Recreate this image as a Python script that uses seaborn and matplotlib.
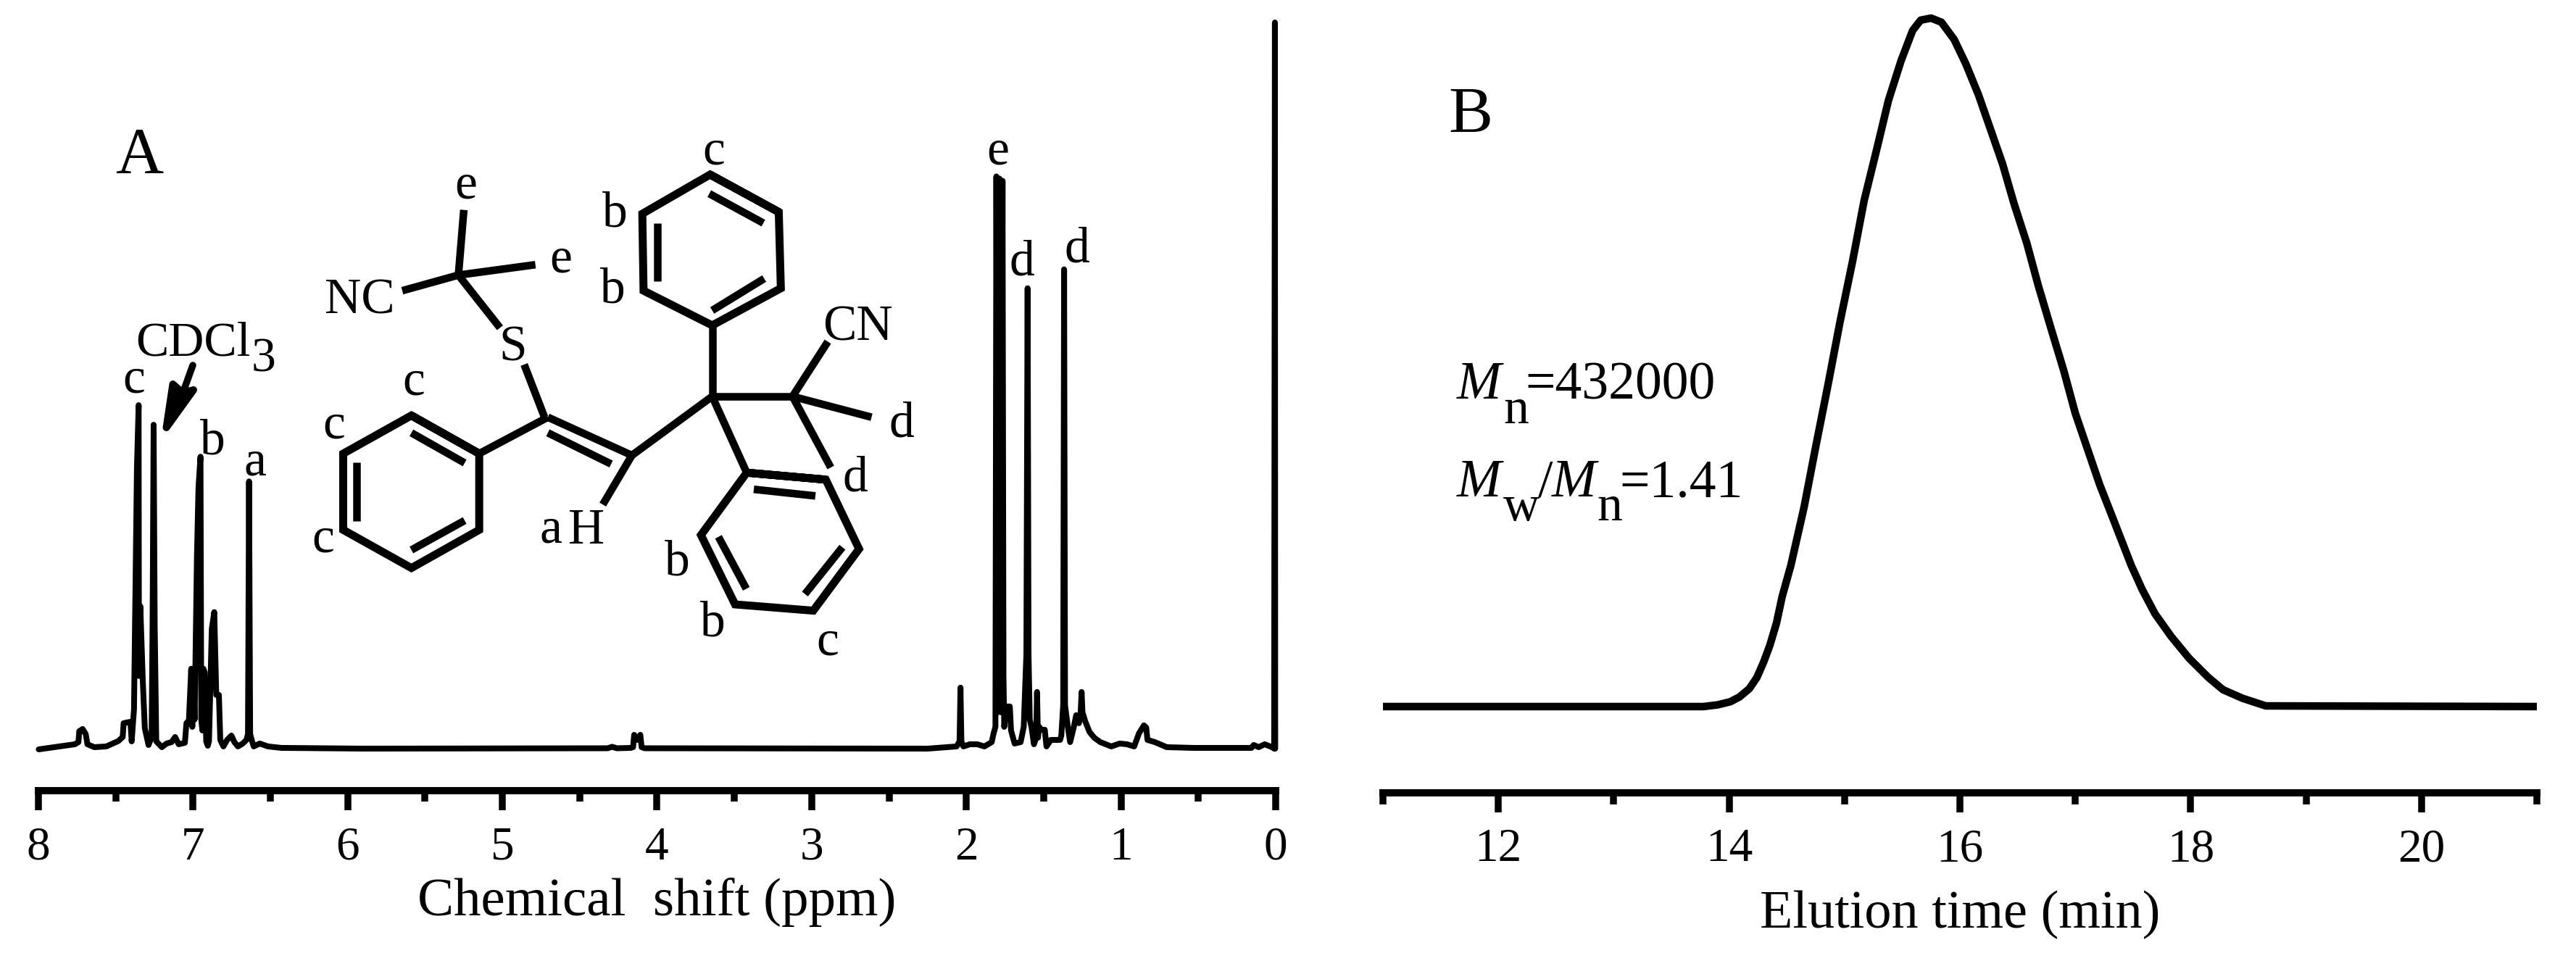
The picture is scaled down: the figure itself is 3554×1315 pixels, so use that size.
import matplotlib
matplotlib.use("Agg")
import matplotlib.pyplot as plt
from matplotlib.ticker import FixedLocator
from matplotlib.patches import Polygon
import seaborn as sns
import pandas as pd

# ---------- data ----------
nmr_ppm = [7.998, 7.764, 7.741, 7.736, 7.714, 7.694, 7.683, 7.639, 7.561, 7.483, 7.455, 7.449, 7.405, 7.397,
           7.382, 7.371, 7.363, 7.352, 7.350, 7.341, 7.325, 7.312, 7.288, 7.275, 7.268, 7.262, 7.255, 7.248, 7.238,
           7.202, 7.171, 7.139, 7.116, 7.093, 7.053, 7.043, 7.027, 7.012, 7.005, 6.998, 6.990, 6.984, 6.975, 6.965,
           6.952, 6.947, 6.940, 6.933, 6.925, 6.915, 6.905, 6.897, 6.879, 6.863, 6.850, 6.846, 6.833, 6.824, 6.804,
           6.780, 6.752, 6.733, 6.710, 6.679, 6.655, 6.645, 6.638, 6.631, 6.621, 6.608, 6.569, 6.515, 6.429, 5.900,
           4.320, 4.290, 4.260, 4.170, 4.155, 4.148, 4.130, 4.108, 4.100, 4.080, 2.250, 2.063, 2.044, 2.038, 2.032,
           2.019, 1.977, 1.930, 1.883, 1.836, 1.825, 1.812, 1.806, 1.797, 1.786, 1.775, 1.766, 1.760, 1.755, 1.743,
           1.719, 1.711, 1.688, 1.649, 1.629, 1.612, 1.604, 1.598, 1.590, 1.579, 1.563, 1.549, 1.543, 1.537, 1.529,
           1.516, 1.493, 1.482, 1.454, 1.423, 1.394, 1.386, 1.374, 1.368, 1.362, 1.344, 1.329, 1.305, 1.290, 1.272,
           1.261, 1.255, 1.249, 1.232, 1.204, 1.173, 1.134, 1.063, 1.009, 0.962, 0.915, 0.884, 0.852, 0.837, 0.829,
           0.782, 0.704, 0.532, 0.157, 0.142, 0.110, 0.071, 0.024, 0.010, 0.005, 0.003]
nmr_intensity = [-0.1, 0.6, 0.9, 2.4, 2.7, 2.0, 0.6, 0.2, 0.3, 1.05, 1.6, 3.5, 3.7, 1.0,
                 5.4, 24.2, 38.7, 47.3, 10.0, 19.6, 9.3, 2.8, 0.5, 1.2, 2.0, 16.9, 44.6, 16.9, 1.0,
                 0.2, 0.7, 0.9, 1.6, 0.6, 0.8, 3.5, 3.9, 11.0, 3.0, 11.0, 4.0, 13.0, 26.5, 36.0,
                 40.2, 4.0, 2.5, 11.0, 10.5, 1.0, 0.4, 1.0, 16.5, 18.8, 7.4, 7.4, 7.4, 1.2, 0.3,
                 1.2, 1.8, 0.9, 0.3, 0.7, 1.2, 2.0, 36.8, 2.0, 1.2, 0.3, 0.7, 0.3, 0.1, 0.0,
                 0.05, 0.25, 0.05, 0.1, 0.2, 1.9, 1.2, 1.9, 0.2, 0.05, 0.0, 0.3, 1.0, 8.4, 1.0,
                 0.3, 0.6, 0.6, 0.3, 0.9, 2.0, 3.0, 78.8, 5.0, 78.5, 5.0, 78.2, 10.0, 3.0, 5.8,
                 5.8, 2.5, 0.7, 0.9, 3.0, 13.0, 63.4, 13.0, 4.0, 3.0, 0.6, 1.5, 7.8, 1.5, 3.0,
                 2.6, 2.6, 0.3, 1.2, 1.2, 1.2, 1.8, 6.0, 66.0, 6.0, 3.0, 0.9, 3.0, 4.6, 3.5,
                 5.0, 7.8, 5.0, 3.8, 2.3, 1.5, 0.9, 0.3, 0.7, 0.6, 0.3, 2.1, 3.2, 2.9, 1.2,
                 0.9, 0.2, 0.1, 0.1, 0.5, 0.2, 0.6, 0.2, 0.0, 100.0, 0.0]

gpc_time = [11.0, 13.777, 13.90, 14.01, 14.09, 14.175, 14.24, 14.30, 14.353, 14.41, 14.46, 14.535, 14.65, 14.75,
            14.86, 14.96, 15.07, 15.17, 15.28, 15.38, 15.49, 15.59, 15.66, 15.75, 15.84, 15.95, 16.05, 16.16, 16.26,
            16.37, 16.47, 16.58, 16.68, 16.79, 16.90, 17.00, 17.11, 17.21, 17.32, 17.42, 17.485, 17.58, 17.69, 17.83,
            17.987, 18.155, 18.28, 18.45, 18.65, 21.0]
gpc_signal = [0.0, 0.0, 0.25, 0.7, 1.4, 2.6, 4.2, 6.5, 8.9, 12.1, 16.0, 20.5, 29.0, 37.7,
              47.0, 55.8, 64.7, 73.5, 81.0, 88.0, 93.8, 98.2, 99.7, 100.0, 99.4, 96.9, 93.4, 88.9, 84.1,
              78.8, 73.0, 67.3, 61.1, 54.9, 48.8, 42.6, 37.2, 32.3, 27.6, 23.3, 20.5, 17.0, 13.5, 10.2,
              7.0, 4.2, 2.45, 1.2, 0.1, 0.0]

ppm_ticks = [8, 7, 6, 5, 4, 3, 2, 1, 0]
ppm_minor = [7.5, 6.5, 5.5, 4.5, 3.5, 2.5, 1.5, 0.5]
time_ticks = [12, 14, 16, 18, 20]
time_minor = [11, 13, 15, 17, 19, 21]

# ---------- page geometry ----------
W, H = 3555, 1315
DPI = 100
PT = 72 / DPI
FONT = "Liberation Serif"

sns.set_theme(style="white")
plt.rcParams["font.family"] = [FONT, "DejaVu Serif"]

fig = plt.figure(figsize=(W / DPI, H / DPI), dpi=DPI, facecolor="white")


def axes_px(x0, x1, ytop, ybottom):
    return fig.add_axes([x0 / W, 1 - ybottom / H, (x1 - x0) / W, (ybottom - ytop) / H])


def style_axis(ax, major, minor, labels, major_len, minor_len, pad):
    ax.patch.set_alpha(0)
    for side in ("left", "right", "top"):
        ax.spines[side].set_visible(False)
    ax.spines["bottom"].set_linewidth(10 * PT)
    ax.spines["bottom"].set_color("black")
    ax.set_yticks([])
    ax.set_ylabel("")
    ax.set_xticks(major)
    ax.set_xticklabels(labels)
    ax.xaxis.set_minor_locator(FixedLocator(minor))
    ax.tick_params(axis="x", which="major", direction="out", bottom=True, length=major_len * PT,
                   width=9.5 * PT, color="black", labelsize=47, pad=pad * PT, labelcolor="black")
    ax.tick_params(axis="x", which="minor", direction="out", bottom=True, length=minor_len * PT,
                   width=9.5 * PT, color="black")


# ---------- panel A ----------
axA = axes_px(53, 1760, 20, 1091)
sns.lineplot(data=pd.DataFrame({"ppm": nmr_ppm, "i": nmr_intensity}), x="ppm", y="i", ax=axA, sort=False,
             estimator=None, color="black", linewidth=8 * PT, solid_joinstyle="round", solid_capstyle="round",
             clip_on=False)
axA.set_xlim(8, 0)
axA.set_ylim(-5.79, 101.1)
style_axis(axA, ppm_ticks, ppm_minor, [str(v) for v in ppm_ticks], 27, 15, 22)
axA.set_xlabel("Chemical  shift (ppm)", fontsize=54, color="black", labelpad=8)

# ---------- panel B ----------
axB = axes_px(1908, 3500, 0, 1094)
sns.lineplot(data=pd.DataFrame({"t": gpc_time, "s": gpc_signal}), x="t", y="s", ax=axB, sort=False,
             estimator=None, color="black", linewidth=10.5 * PT, solid_joinstyle="round", solid_capstyle="butt",
             clip_on=False)
axB.set_xlim(11, 21)
axB.set_ylim(-12.53, 102.63)
style_axis(axB, time_ticks, time_minor, [str(v) for v in time_ticks], 27, 16, 22)
axB.set_xlabel("Elution time (min)", fontsize=53.5, color="black", labelpad=19)

# ---------- overlay for annotations, in page pixels ----------
ov = fig.add_axes([0, 0, 1, 1], zorder=5)
ov.set_xlim(0, W)
ov.set_ylim(H, 0)
ov.axis("off")


def label(x, y, s, size=50, ha="center", style="normal"):
    ov.text(x, y, s, fontsize=size, ha=ha, va="baseline", color="black", style=style, family=FONT)


label(192, 239, "A", 66)
label(2029, 183, "B", 66)

peak_labels = [(185, 541, "c"), (293, 626, "b"), (352, 655, "a"), (1377, 226, "e"), (1410, 379, "d"), (1486, 361, "d")]
for x, y, s in peak_labels:
    label(x, y, s)

struct_labels = [(643, 273, "e"), (774, 375, "e"), (496, 432, "NC"), (708, 497, "S"), (571, 544, "c"),
                 (461, 604, "c"), (446, 761, "c"), (760, 748, "a"), (809, 750, "H"), (985, 226, "c"),
                 (848, 312, "b"), (845, 417, "b"), (1183, 469, "CN"), (1244, 602, "d"), (1180, 677, "d"),
                 (934, 793, "b"), (983, 877, "b"), (1142, 903, "c")]
for x, y, s in struct_labels:
    label(x, y, s)

label(187, 490, "CDCl", 49, ha="left")
label(347, 512, "3", 49, ha="left")

# solvent arrow
ov.add_patch(Polygon([(229.5, 590), (238.5, 530), (252, 542), (267, 538)], closed=True, facecolor="black",
                     edgecolor="black", linewidth=10 * PT, joinstyle="round"))
ov.plot([253, 266], [540, 504], color="black", linewidth=9.5 * PT, solid_capstyle="round")

# molecular weight annotation
label(2010, 550, "M", 53, ha="left", style="italic")
label(2074, 584, "n", 50, ha="left")
label(2104, 550, "=432000", 53, ha="left")
label(2010, 685, "M", 53, ha="left", style="italic")
label(2074, 718, "w", 50, ha="left")
label(2122, 685, "/", 53, ha="left")
label(2141, 685, "M", 53, ha="left", style="italic")
label(2203, 718, "n", 50, ha="left")
label(2234, 685, "=1.41", 53, ha="left")

# ---------- structural formula, drawn in its own small box ----------
axS = axes_px(400, 1300, 150, 900)
axS.set_xlim(0, 1568)
axS.set_ylim(1568, 0)
axS.axis("off")
rings = [
    [(292, 885), (455, 995), (455, 1215), (292, 1325), (128, 1215), (128, 995)],
    [(1010, 190), (1175, 298), (1180, 518), (1015, 625), (850, 525), (847, 303)],
    [(1098, 1050), (1288, 1070), (1368, 1270), (1258, 1448), (1070, 1430), (988, 1230)],
]
bonds = [
    [(292, 935), (420, 1022)], [(160, 1020), (160, 1190)], [(292, 1273), (420, 1188)],
    [(455, 995), (620, 890)], [(620, 890), (822, 1000)], [(620, 935), (772, 1025)],
    [(822, 1000), (752, 1142)], [(612, 890), (563, 738)], [(822, 1000), (1015, 830)],
    [(1015, 830), (1015, 625)], [(1008, 245), (1138, 330)], [(884, 330), (884, 498)],
    [(1015, 582), (1140, 490)], [(1015, 830), (1208, 830)], [(1208, 830), (1293, 672)],
    [(1208, 830), (1398, 890)], [(1208, 830), (1300, 1035)], [(1015, 830), (1098, 1050)],
    [(1115, 1098), (1263, 1117)], [(1030, 1235), (1097, 1385)], [(1238, 1400), (1328, 1265)],
    [(405, 480), (418, 292)], [(405, 480), (590, 450)], [(405, 480), (270, 525)], [(405, 480), (505, 632)],
]
for ring in rings:
    xs = [p[0] for p in ring] + [ring[0][0], ring[1][0]]
    ys = [p[1] for p in ring] + [ring[0][1], ring[1][1]]
    axS.plot(xs, ys, color="black", linewidth=11 * PT, solid_joinstyle="miter", solid_capstyle="butt")
for (a, b) in bonds:
    axS.plot([a[0], b[0]], [a[1], b[1]], color="black", linewidth=10.5 * PT, solid_capstyle="butt")

fig.savefig("out.png", dpi=DPI, facecolor="white")
